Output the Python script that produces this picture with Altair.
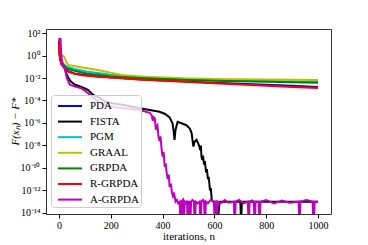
import altair as alt
import pandas as pd

# ---- data (x = iteration n, values given as log10 of F(x_n)-F*) ----
pda_n = [0, 2, 5, 10, 20, 36, 60, 90, 150, 240, 320, 480, 600, 700, 800, 900, 1000]
pda_e = [1.0, 0.2, -0.35, -0.75, -1.05, -1.4, -1.6, -1.72, -1.86, -2.0, -2.14, -2.3, -2.42, -2.52, -2.6, -2.7, -2.8]

fista_n = [0, 3, 6, 10, 15, 20, 30, 45, 62, 87, 100, 113, 132, 158, 177, 209, 260, 312, 350, 388,
           410, 427, 438, 443, 446, 450, 458, 475, 492, 505, 512, 516, 519, 523, 531, 537, 542, 545,
           548, 550, 553, 556, 560, 563, 568, 571, 575, 578, 583, 586, 590, 595, 605, 609, 612, 615,
           620, 700, 702, 704, 706, 710, 800, 1000]
fista_e = [1.2, 0.6, 0.0, -0.4, -0.7, -1.0, -1.7, -2.3, -2.6, -2.8, -2.92, -3.07, -3.5, -3.8, -4.1,
           -4.25, -4.45, -4.7, -4.85, -5.0, -5.2, -5.5, -6.0, -6.8, -7.5, -6.6, -5.9, -6.05, -6.2,
           -6.5, -6.9, -7.6, -8.1, -7.7, -7.5, -7.8, -8.1, -8.4, -8.0, -9.0, -9.3, -8.9, -9.7, -9.4,
           -10.4, -10.1, -11.0, -10.8, -12.0, -11.8, -12.9, -13.0, -13.0, -13.0, -14.3, -14.3, -13.0,
           -13.0, -14.3, -14.3, -13.0, -13.0, -13.0, -13.0]

pgm_n = [0, 2, 5, 10, 20, 30, 60, 110, 150, 200, 330, 480, 600, 800, 1000]
pgm_e = [1.0, 0.3, -0.3, -0.55, -0.8, -1.0, -1.2, -1.44, -1.56, -1.72, -1.95, -2.1, -2.18, -2.26, -2.34]

graal_n = [0, 3, 10, 20, 27, 35, 73, 150, 242, 331, 480, 600, 800, 1000]
graal_e = [1.0, 0.1, 0.0, -0.1, -0.5, -0.84, -0.99, -1.29, -1.73, -1.88, -2.03, -2.08, -2.13, -2.18]

grpda_n = [0, 2, 5, 10, 20, 30, 60, 110, 150, 200, 330, 480, 600, 800, 1000]
grpda_e = [1.0, 0.3, -0.3, -0.6, -0.9, -1.14, -1.35, -1.62, -1.72, -1.86, -2.03, -2.16, -2.24, -2.33, -2.42]

rgrpda_n = [0, 2, 5, 10, 20, 36, 60, 90, 150, 240, 320, 480, 600, 700, 800, 900, 1000]
rgrpda_e = [1.0, 0.2, -0.4, -0.8, -1.1, -1.44, -1.62, -1.75, -1.88, -2.03, -2.16, -2.33, -2.47, -2.58, -2.68, -2.8, -2.9]

agrpda_n = [0, 2, 4, 6, 8, 11, 17, 23, 30, 42, 62, 87, 113, 151, 180, 220, 260, 312, 350, 358, 362,
            366, 370, 374, 377, 380, 384, 388, 392, 396, 400, 404, 408, 412, 416, 420, 424, 427, 432,
            436, 440, 444, 450, 455, 460, 466, 468, 471, 473, 478, 480, 483, 485, 490, 494, 496, 499,
            501, 503, 505, 508, 510, 515, 521, 523, 526, 528, 535, 543, 545, 548, 550, 556, 560, 562,
            565, 567, 575, 585, 598, 600, 603, 605, 606, 608, 611, 613, 625, 640, 655, 675, 677, 680,
            682, 695, 712, 729, 731, 734, 736, 745, 752, 754, 757, 759, 771, 773, 776, 778, 800, 830,
            860, 890, 925, 927, 930, 932, 955, 979, 981, 985, 987, 1000]
agrpda_e = [1.2, 1.58, 1.0, 1.55, 0.5, -0.6, -0.9, -1.14, -2.0, -2.6, -2.77, -2.92, -3.36, -4.1,
            -4.45, -4.6, -4.72, -4.85, -5.1, -5.3, -5.8, -5.5, -5.6, -6.6, -6.3, -6.2, -7.2, -7.6,
            -7.2, -8.3, -9.0, -8.6, -9.9, -9.6, -10.5, -11.0, -10.6, -11.7, -11.4, -12.2, -12.5,
            -12.2, -13.0, -12.85, -13.15, -13.0, -14.3, -14.3, -13.0, -12.85, -14.3, -14.3, -13.0,
            -13.15, -12.9, -14.3, -14.3, -13.0, -13.0, -14.3, -14.3, -13.0, -12.85, -13.0, -14.3,
            -14.3, -13.0, -13.15, -13.0, -14.3, -14.3, -13.0, -12.85, -13.0, -14.3, -14.3, -13.0,
            -13.15, -12.85, -13.0, -14.3, -14.3, -13.0, -13.0, -14.3, -14.3, -13.0, -13.15, -12.85,
            -13.1, -13.0, -14.3, -14.3, -13.0, -12.85, -13.15, -13.0, -14.3, -14.3, -13.0, -12.9,
            -13.0, -14.3, -14.3, -13.0, -13.0, -14.3, -14.3, -13.0, -12.85, -13.15, -12.9, -13.1,
            -13.0, -14.3, -14.3, -13.0, -12.85, -13.0, -14.3, -14.3, -13.0, -13.0]

series_names = ["PDA", "FISTA", "PGM", "GRAAL", "GRPDA", "R-GRPDA", "A-GRPDA"]
series_colors = ["#0000ff", "#000000", "#00bfbf", "#bfbf00", "#008000", "#ff0000", "#bf00bf"]
series_data = [(pda_n, pda_e), (fista_n, fista_e), (pgm_n, pgm_e), (graal_n, graal_e),
               (grpda_n, grpda_e), (rgrpda_n, rgrpda_e), (agrpda_n, agrpda_e)]

y_tick_exps = [2, 0, -2, -4, -6, -8, -10, -12, -14]
y_tick_labels = ["10²", "10⁰", "10⁻²", "10⁻⁴", "10⁻⁶", "10⁻⁸", "10⁻¹⁰", "10⁻¹²", "10⁻¹⁴"]
x_ticks = [0, 200, 400, 600, 800, 1000]

FONT = "Liberation Serif"

label_expr = "''"
for ex, lab in zip(y_tick_exps, y_tick_labels):
    label_expr = f"round(log(datum.value)/LN10) == {ex} ? '{lab}' : ({label_expr})"

color_scale = alt.Scale(domain=series_names, range=series_colors)
x_scale = alt.Scale(domain=[-50, 1050], nice=False, zero=False)
y_scale = alt.Scale(type="log", domain=[10 ** -14.1, 10 ** 2.36], nice=False)

layers = []
for i, (name, (ns, es)) in enumerate(zip(series_names, series_data)):
    df = pd.DataFrame({"n": ns, "v": [10 ** e for e in es], "series": name})
    x_enc = alt.X("n:Q", scale=x_scale,
                  axis=alt.Axis(values=x_ticks, format="d", title="iterations, n",
                                titleY=16, titleBaseline="top"))
    y_enc = alt.Y("v:Q", scale=y_scale,
                  axis=alt.Axis(values=[10.0 ** e for e in y_tick_exps], labelExpr=label_expr,
                                title="F(xₙ) − F*", titleFontStyle="italic",
                                titleX=-26, titleY=92))
    color_enc = alt.Color("series:N", scale=color_scale,
                          legend=alt.Legend(title=None, orient="none", legendX=5, legendY=66,
                                            symbolType="M-0.5,0H2.5", symbolSize=256,
                                            symbolStrokeWidth=2, labelOffset=19,
                                            labelFont=FONT, labelFontSize=11, labelColor="black",
                                            rowPadding=1.6, padding=2, fillColor="rgba(255,255,255,0.8)",
                                            strokeColor="#cccccc", cornerRadius=3))
    layers.append(
        alt.Chart(df).mark_line(strokeWidth=2, clip=True).encode(
            x=x_enc, y=y_enc, color=color_enc, order=alt.Order("n:Q")
        )
    )

chart = alt.layer(*layers).properties(
    width=285, height=185,
    autosize=alt.AutoSizeParams(type="none"),
    padding={"left": 38, "top": 21, "right": 29, "bottom": 29},
).configure_view(
    stroke="#333333", strokeWidth=1
).configure_axis(
    grid=False, domain=False, tickColor="black", tickSize=4, tickWidth=1,
    labelFont=FONT, labelFontSize=10, labelColor="black", labelPadding=2,
    titleFont=FONT, titleFontSize=11, titleFontWeight="normal", titleColor="black",
)

chart.save("out.html", embed_options={"renderer": "svg", "actions": False})
